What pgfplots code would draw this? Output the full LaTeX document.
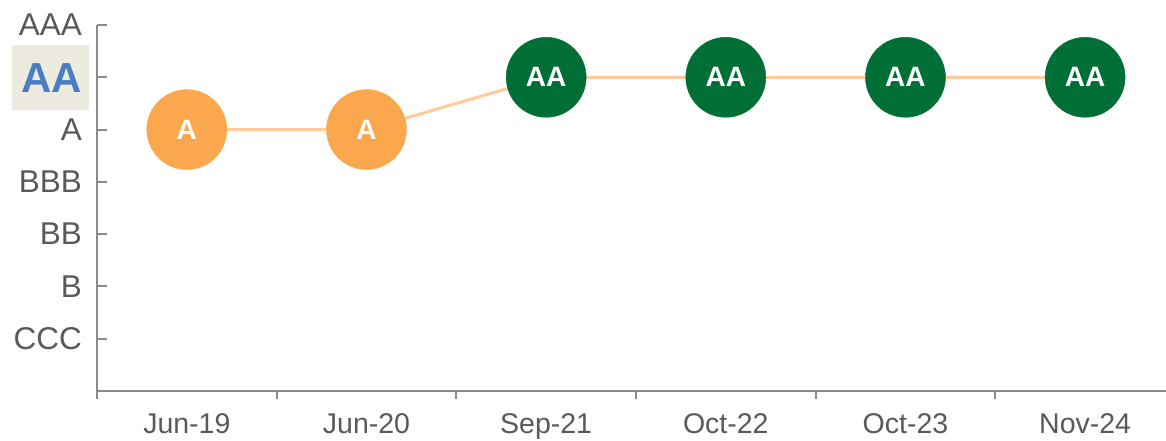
\documentclass[border=0pt]{standalone}
\usepackage{fontspec}
\setmainfont{Liberation Sans}
\usepackage{pgfplots}
\pgfplotsset{compat=1.18}
\definecolor{axisgrey}{HTML}{8A8A8A}
\definecolor{labelgrey}{HTML}{595959}
\definecolor{ratorange}{HTML}{FBA74D}
\definecolor{ratgreen}{HTML}{006F36}
\definecolor{linkline}{HTML}{FFCC99}
\definecolor{hlbg}{HTML}{EDEAE0}
\definecolor{hlblue}{HTML}{4A7EC2}

\pgfplotstableread{
x y
0 5
1 5
}\orangepts
\pgfplotstableread{
x y
2 6
3 6
4 6
5 6
}\greenpts
\pgfplotstableread{
x y
0 5
1 5
2 6
3 6
4 6
5 6
}\allpts

\begin{document}
\begin{tikzpicture}
\begin{axis}[
  scale only axis, width=1069pt, height=366pt,
  xmin=-0.5, xmax=5.45, ymin=0, ymax=7,
  clip=false,
  axis lines=left,
  axis line style={draw=axisgrey, line width=2pt, -},
  tick align=inside, major tick length=10pt, minor tick length=8pt,
  tick style={draw=axisgrey, line width=2pt},
  xtick={0,...,5},
  xticklabels={Jun-19,Jun-20,Sep-21,Oct-22,Oct-23,Nov-24},
  major x tick style={draw=none},
  minor xtick={-0.5,0.5,1.5,2.5,3.5,4.5},
  minor x tick style={draw=axisgrey, line width=2pt, yshift=-8pt},
  ytick={1,...,7},
  yticklabels={CCC,B,BB,BBB,A,{\fboxsep=0pt\colorbox{hlbg}{\hspace{9pt}\rule[-17.5pt]{0pt}{65pt}\fontsize{42}{42}\selectfont\bfseries\color{hlblue}AA\hspace{7pt}}\kern-7pt},AAA},
  yticklabel style={anchor=east, inner sep=0pt, xshift=-15pt, font=\fontsize{31.5}{32}\selectfont, text=labelgrey},
  xticklabel style={anchor=north, inner sep=0pt, yshift=-22pt, font=\fontsize{28.5}{29}\selectfont, text=labelgrey},
]
\coordinate (O) at (rel axis cs:0,0);
\addplot[linkline, line width=3pt, no marks] table[x=x, y=y] {\allpts};
\addplot[only marks, mark=*, mark size=40pt, color=ratorange,
  nodes near coords={A},
  every node near coord/.style={anchor=center, text=white, font=\fontsize{28}{28}\selectfont\bfseries}]
  table[x=x, y=y] {\orangepts};
\addplot[only marks, mark=*, mark size=40pt, color=ratgreen,
  nodes near coords={AA},
  every node near coord/.style={anchor=center, text=white, font=\fontsize{28}{28}\selectfont\bfseries}]
  table[x=x, y=y] {\greenpts};
\end{axis}
\pgfresetboundingbox
\path ([shift={(-97pt,-49pt)}]O) rectangle ([shift={(1069pt,391pt)}]O);
\end{tikzpicture}
\end{document}
